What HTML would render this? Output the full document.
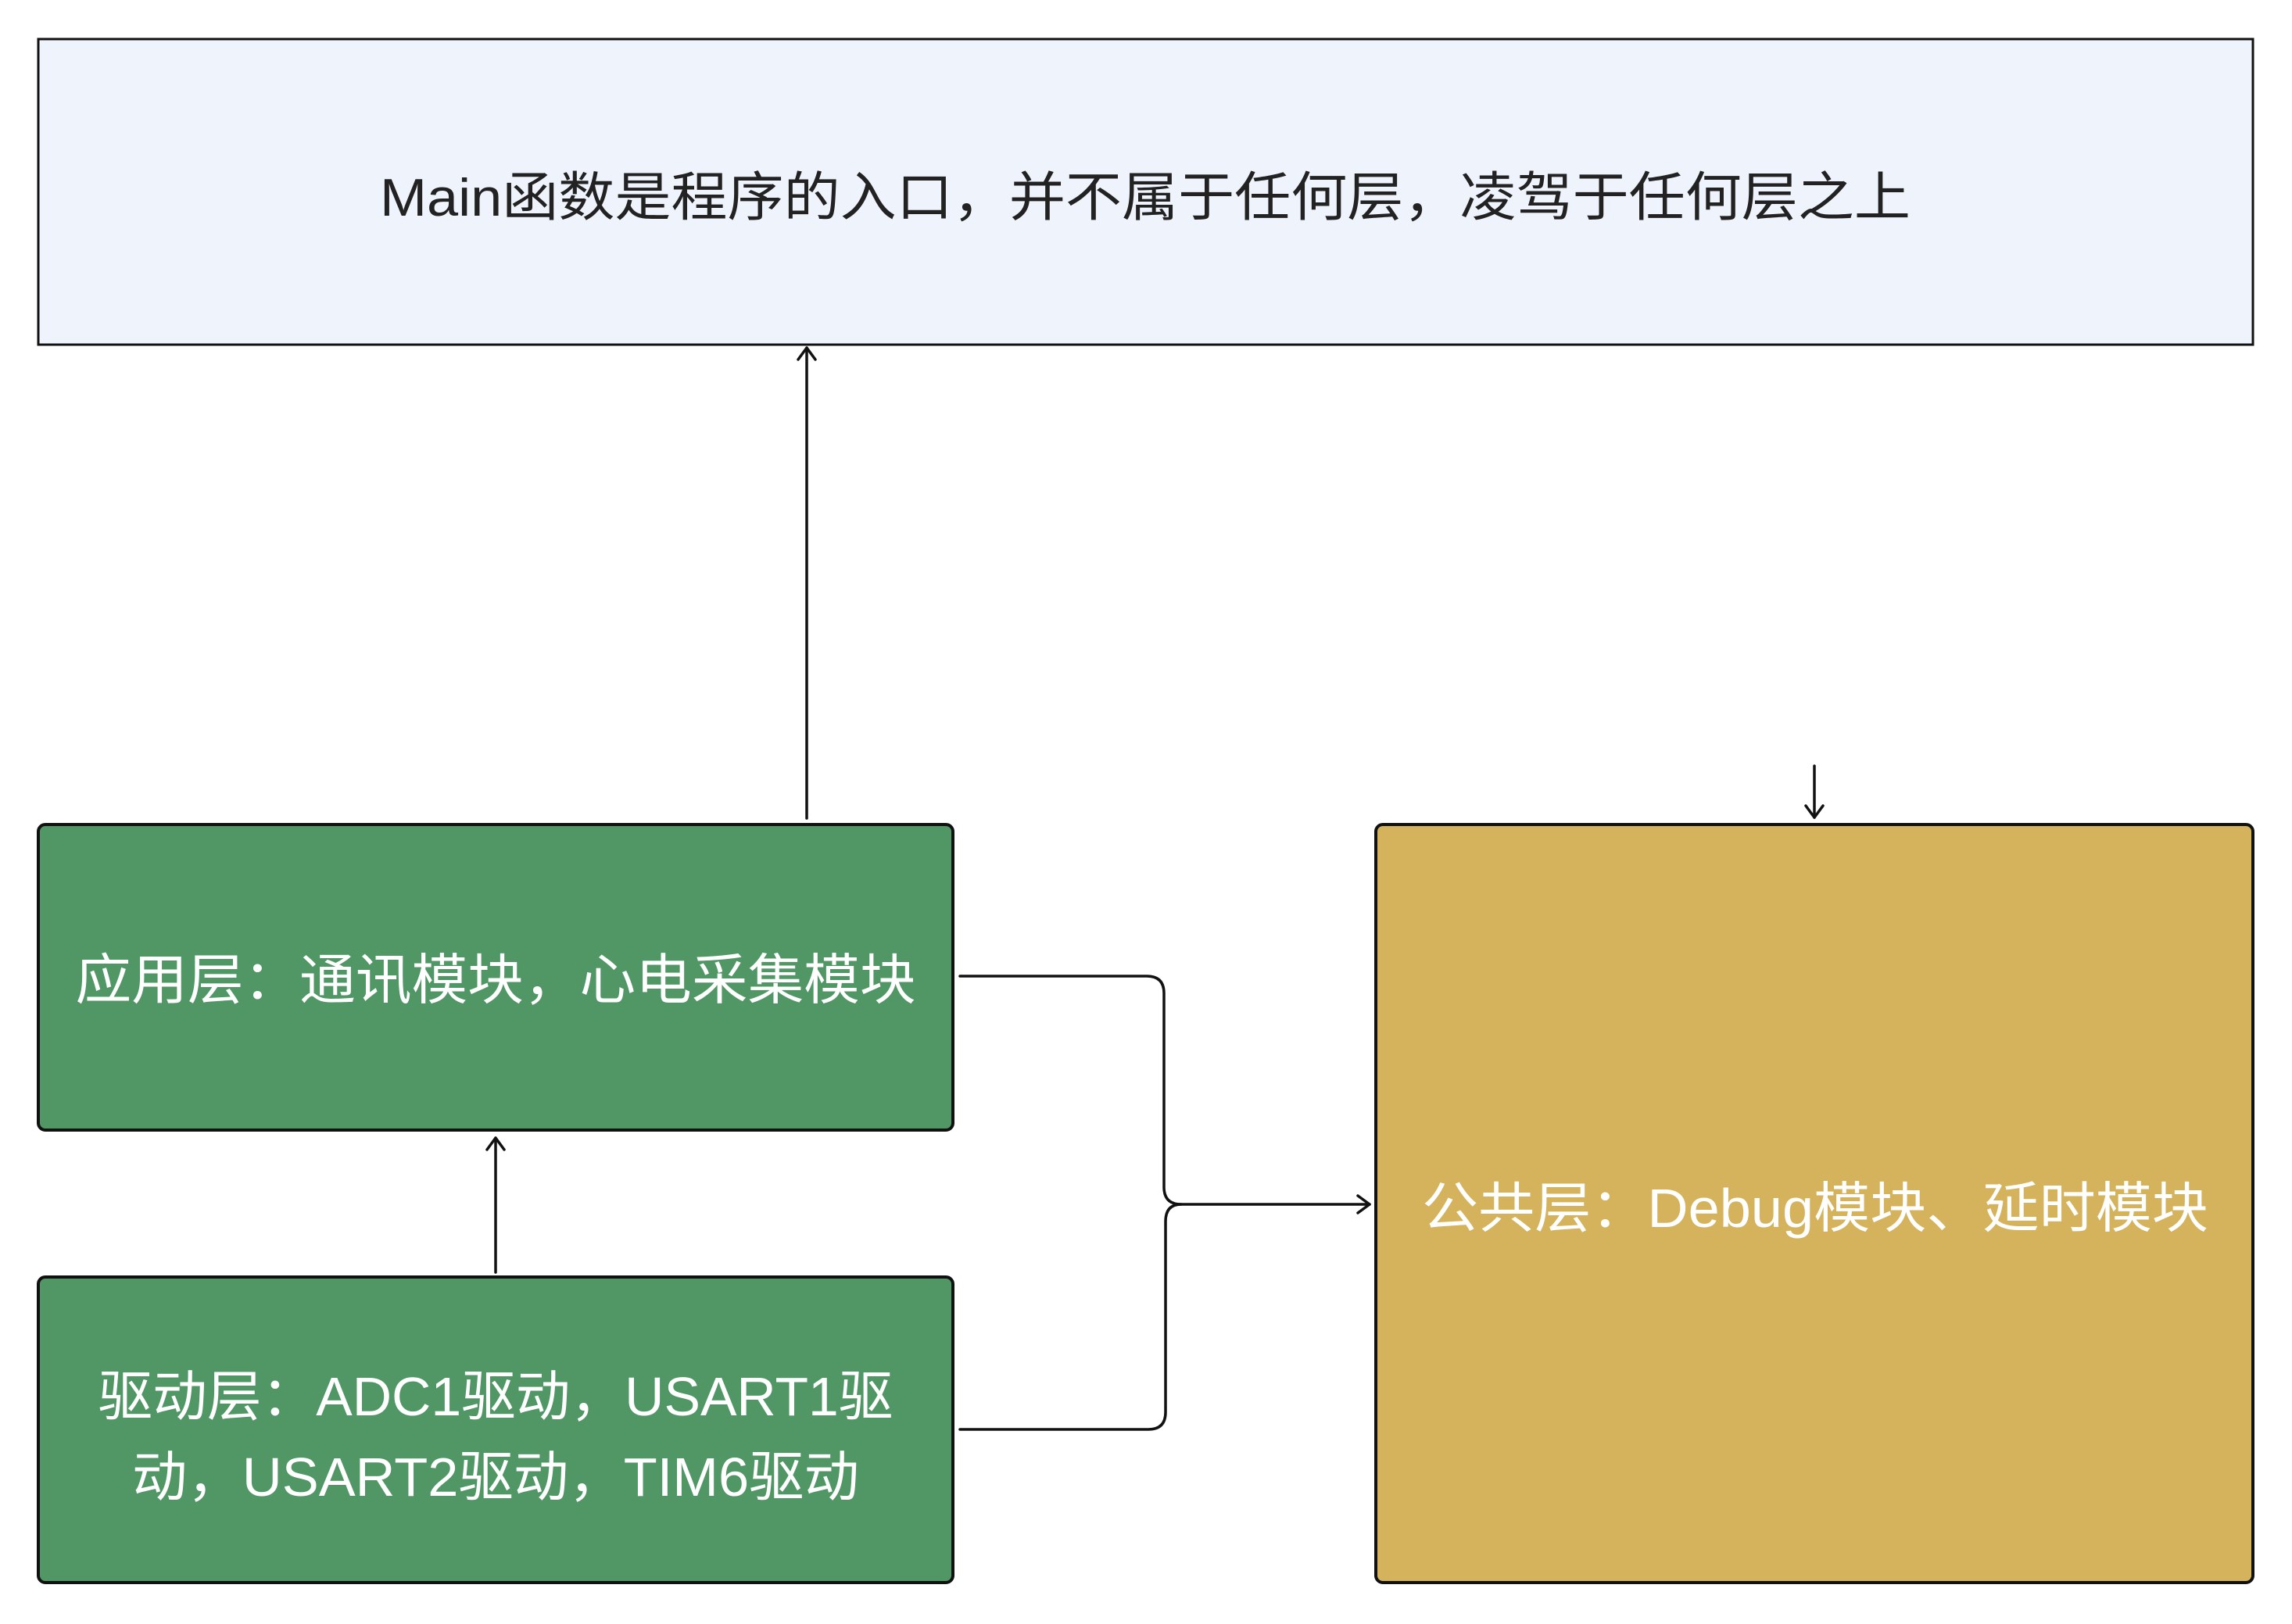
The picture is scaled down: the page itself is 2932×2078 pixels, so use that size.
<!DOCTYPE html>
<html><head><meta charset="utf-8"><style>
html,body{margin:0;padding:0;background:#fff;}
svg{display:block;}
text{font-family:"Liberation Sans","Noto Sans CJK SC",sans-serif;}
</style></head><body>
<svg width="2932" height="2078" viewBox="0 0 2932 2078" xmlns="http://www.w3.org/2000/svg">
<rect x="0" y="0" width="2932" height="2078" fill="#fff"/>
<rect x="49" y="50" width="2833" height="391" fill="#eff3fc" stroke="#111" stroke-width="3"/>
<text x="1465" y="276" font-size="68" fill="#222" text-anchor="middle" textLength="1958" lengthAdjust="spacingAndGlyphs">Main函数是程序的入口，并不属于任何层，凌驾于任何层之上</text>

<rect x="49" y="1055" width="1170" height="391" rx="9" fill="#519766" stroke="#111" stroke-width="4"/>
<text x="634" y="1278" font-size="70" fill="#fff" text-anchor="middle" textLength="1075" lengthAdjust="spacingAndGlyphs">应用层：通讯模块，心电采集模块</text>

<rect x="49" y="1634" width="1170" height="391" rx="9" fill="#519766" stroke="#111" stroke-width="4"/>
<text x="634" y="1811" font-size="70" fill="#fff" text-anchor="middle" textLength="1017" lengthAdjust="spacingAndGlyphs">驱动层：ADC1驱动，USART1驱</text>
<text x="634" y="1914" font-size="70" fill="#fff" text-anchor="middle" textLength="930" lengthAdjust="spacingAndGlyphs">动，USART2驱动，TIM6驱动</text>

<rect x="1760" y="1055" width="1122" height="970" rx="9" fill="#d4b35c" stroke="#111" stroke-width="4"/>
<text x="2322" y="1570" font-size="70" fill="#fff" text-anchor="middle" textLength="1006" lengthAdjust="spacingAndGlyphs">公共层：Debug模块、延时模块</text>

<g fill="none" stroke="#111" stroke-width="3.5" stroke-linecap="round" stroke-linejoin="round">
<path d="M1032 1047 V445"/>
<path d="M1021 460 L1032 445 L1043 460"/>
<path d="M634 1628 V1456"/>
<path d="M623 1471 L634 1456 L645 1471"/>
<path d="M2321 980 V1046"/>
<path d="M2310 1031 L2321 1046 L2332 1031"/>
<path d="M1228 1249 H1467 Q1489 1249 1489 1271 V1519 Q1489 1541 1511 1541 H1752"/>
<path d="M1737 1530 L1752 1541 L1737 1552"/>
<path d="M1228 1829 H1469 Q1491 1829 1491 1807 V1563 Q1491 1541 1511 1541"/>
</g>
</svg>
</body></html>
